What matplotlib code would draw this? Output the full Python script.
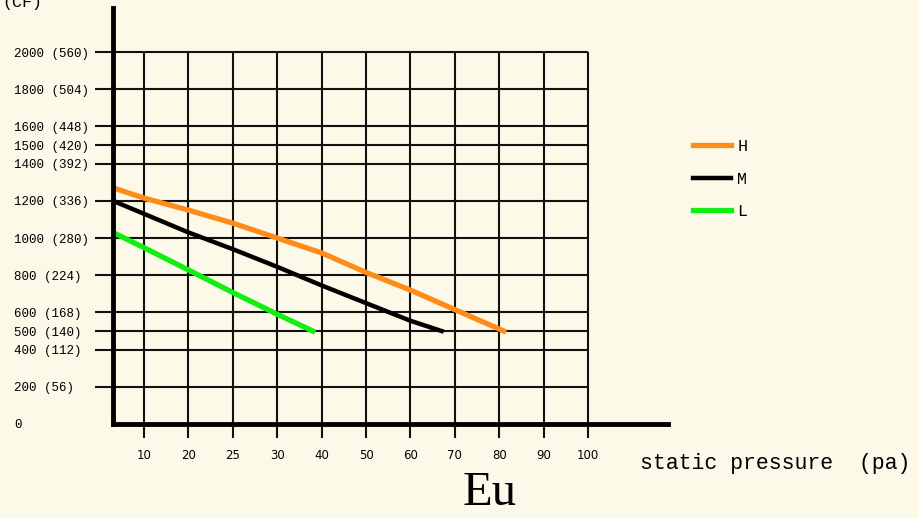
import numpy as np
import matplotlib
matplotlib.use("Agg")
import matplotlib.pyplot as plt

# y axis: airflow values with (CFM) equivalents
y_vals = [0, 200, 400, 500, 600, 800, 1000, 1200, 1400, 1500, 1600, 1800, 2000]
y_labels = ['0', '200 (56)', '400 (112)', '500 (140)', '600 (168)', '800 (224)',
            '1000 (280)', '1200 (336)', '1400 (392)', '1500 (420)', '1600 (448)',
            '1800 (504)', '2000 (560)']

# x axis: static pressure ticks (evenly spaced on the drawing)
x_ticks = [10, 20, 25, 30, 40, 50, 60, 70, 80, 90, 100]

# curves (static pressure pa, airflow)
h_x = [0, 10, 20, 25, 30, 40, 50, 60, 70, 81]
h_y = [1270, 1215, 1150, 1080, 1000, 920, 815, 720, 615, 500]
m_x = [0, 10, 20, 25, 30, 40, 50, 60, 67]
m_y = [1200, 1130, 1030, 940, 845, 745, 650, 555, 500]
l_x = [0, 10, 20, 25, 30, 38]
l_y = [1030, 948, 828, 707, 590, 500]

tick_pos = np.arange(1, len(x_ticks) + 1)


def to_pos(p):
    return np.interp(p, [0] + x_ticks, np.concatenate([[0.3], tick_pos]))


bg = '#fcf9e8'
fig = plt.figure(figsize=(9.2, 5.18), dpi=100, facecolor=bg)
ax = fig.add_axes([113 / 920, 94 / 518, 555 / 920, 416 / 518])
ax.set_facecolor(bg)
ax.set_xlim(0.3, 12.8)
ax.set_ylim(0, 2237)

# grid
ax.vlines(tick_pos, 0, 2000, color='#111111', lw=1.5, zorder=1)
ax.hlines(y_vals[1:], 0.3, tick_pos[-1], color='#111111', lw=1.5, zorder=1)

ax.plot(to_pos(h_x), h_y, color='#ff8c1a', lw=3.8, label='H', zorder=3)
ax.plot(to_pos(m_x), m_y, color='black', lw=3.2, label='M', zorder=3)
ax.plot(to_pos(l_x), l_y, color='#11ee11', lw=3.8, label='L', zorder=3)

for s in ['top', 'right']:
    ax.spines[s].set_visible(False)
for s in ['left', 'bottom']:
    ax.spines[s].set_linewidth(3.5)
    ax.spines[s].set_zorder(4)

ax.set_xticks(tick_pos, [str(t) for t in x_ticks])
ax.set_yticks(y_vals, y_labels)
ax.tick_params(axis='x', length=10, width=1.5, pad=8, labelsize=8.5, color='#111111')
ax.tick_params(axis='y', length=13, width=1.5, pad=58, labelsize=9, color='#111111')
ax.yaxis.get_major_ticks()[0].tick1line.set_visible(False)
for lab in ax.get_yticklabels():
    lab.set_horizontalalignment('left')
    lab.set_family('Liberation Mono')

fig.text(640 / 920, 1 - 463 / 518, 'static pressure  (pa)', family='Liberation Mono',
         fontsize=15.5, va='center', ha='left')
fig.text(490 / 920, 1 - 493 / 518, 'Eu', family='Liberation Serif', fontsize=35,
         va='center', ha='center')
fig.text(2 / 920, 1 - 7 / 518, '(CF)', family='Liberation Mono', fontsize=12,
         va='baseline', ha='left')

ax.legend(loc='upper left', bbox_to_anchor=(693 / 920, 1 - 139 / 518),
          bbox_transform=fig.transFigure, frameon=False, prop={'family': 'Liberation Mono', 'size': 12},
          handlelength=2.3, handletextpad=0.35, labelspacing=1.05, borderpad=0, borderaxespad=0)

fig.savefig('out.png', dpi=100, facecolor=bg)
